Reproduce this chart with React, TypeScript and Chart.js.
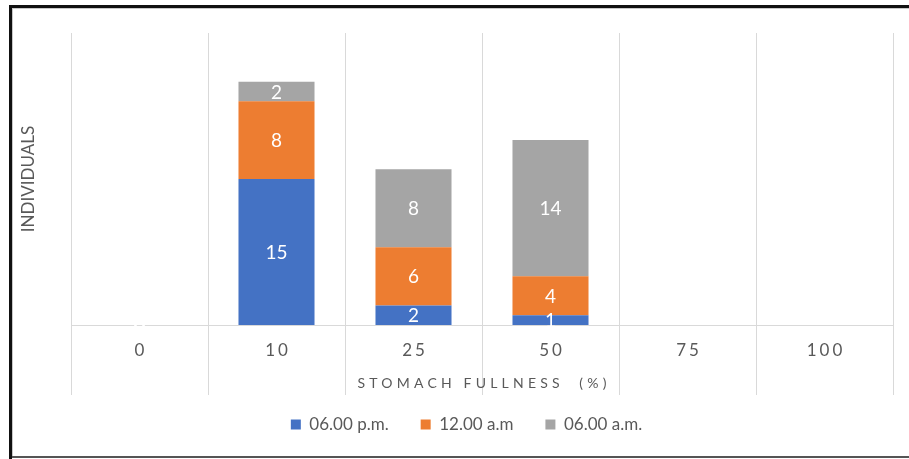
import React, { useEffect, useRef } from "react";
import { Chart, registerables } from "chart.js";

Chart.register(...registerables);

// Stomach fullness classes (%) and individuals per sampling time
const categories = ["0", "10", "25", "50", "75", "100"];
const eveningValues = [0, 15, 2, 1, null, null];   // 06.00 p.m.
const midnightValues = [0, 8, 6, 4, null, null];   // 12.00 a.m
const morningValues = [0, 2, 8, 14, null, null];   // 06.00 a.m.
const seriesNames = ["06.00 p.m.", "12.00 a.m", "06.00 a.m."];
const seriesColors = ["#4472C4", "#ED7D31", "#A5A5A5"];
const xTitle = "STOMACH FULLNESS  (%)";
const yTitle = "INDIVIDUALS";

const FONT = "Lato, 'Open Sans', sans-serif";
const TEXT_GREY = "#595959";
const GRID_GREY = "#d9d9d9";

// Page-like frame around the whole figure
const framePlugin = {
  id: "frame",
  beforeDraw(chart: any) {
    const { ctx, width, height } = chart;
    ctx.save();
    ctx.fillStyle = "#ffffff";
    ctx.fillRect(0, 0, width, height);
    ctx.fillStyle = "#111111";
    ctx.fillRect(9, 5, width - 9, 3);
    ctx.fillRect(9, 5, 3, height - 5);
    ctx.fillStyle = "#c8c8c8";
    ctx.fillRect(12, 8, width - 12, 1);
    ctx.fillRect(12, 8, 1, height - 10);
    ctx.fillStyle = "#555555";
    ctx.fillRect(12, height - 3, width - 12, 2);
    ctx.restore();
  },
};

// Category table lines below the axis, spaced tick labels and axis title
const xAxisPlugin = {
  id: "xAxisDecor",
  afterDraw(chart: any) {
    const { ctx, chartArea, scales } = chart;
    const xs = scales.x;
    const n = categories.length;
    const step = (chartArea.right - chartArea.left) / n;
    ctx.save();
    ctx.strokeStyle = GRID_GREY;
    ctx.lineWidth = 1;
    for (let i = 0; i <= n; i++) {
      const x = Math.round(chartArea.left + i * step) + 0.5;
      ctx.beginPath();
      ctx.moveTo(x, chartArea.bottom);
      ctx.lineTo(x, chartArea.bottom + 70);
      ctx.stroke();
    }
    ctx.fillStyle = TEXT_GREY;
    ctx.textAlign = "center";
    ctx.textBaseline = "middle";
    (ctx as any).letterSpacing = "3px";
    ctx.font = `17px ${FONT}`;
    categories.forEach((label, i) => {
      const x = xs.getPixelForTick(i);
      ctx.fillText(label, x + 1.5, chartArea.bottom + 26);
    });
    (ctx as any).letterSpacing = "4.2px";
    ctx.font = `14px ${FONT}`;
    ctx.fillText(xTitle, (chartArea.left + chartArea.right) / 2 + 2.1, chartArea.bottom + 58);
    ctx.restore();
  },
};

// Value labels in the middle of each stacked segment
const valueLabelPlugin = {
  id: "valueLabels",
  afterDatasetsDraw(chart: any) {
    const { ctx } = chart;
    ctx.save();
    ctx.fillStyle = "#ffffff";
    ctx.textAlign = "center";
    ctx.textBaseline = "middle";
    ctx.font = `19px ${FONT}`;
    chart.data.datasets.forEach((ds: any, di: number) => {
      const meta = chart.getDatasetMeta(di);
      meta.data.forEach((bar: any, i: number) => {
        const v = ds.data[i];
        if (v === null || v === undefined) return;
        ctx.fillText(String(v), bar.x, (bar.y + bar.base) / 2 + 1);
      });
    });
    ctx.restore();
  },
};

export default function App() {
  const canvasRef = useRef<HTMLCanvasElement | null>(null);

  useEffect(() => {
    if (!canvasRef.current) return;
    const values = [eveningValues, midnightValues, morningValues];
    const chart = new Chart(canvasRef.current, {
      type: "bar",
      data: {
        labels: categories,
        datasets: seriesNames.map((name, i) => ({
          label: name,
          data: values[i],
          backgroundColor: seriesColors[i],
          borderWidth: 0,
          categoryPercentage: 1,
          barPercentage: 0.555,
        })),
      },
      options: {
        animation: false,
        responsive: false,
        devicePixelRatio: 1,
        layout: { padding: { left: 40, top: 33, right: 16, bottom: 16 } },
        plugins: {
          tooltip: { enabled: false },
          legend: {
            position: "bottom",
            labels: {
              boxWidth: 10,
              boxHeight: 10,
              padding: 32,
              color: TEXT_GREY,
              font: { family: FONT, size: 17 },
            },
          },
        },
        scales: {
          x: {
            stacked: true,
            offset: true,
            grid: { color: GRID_GREY, offset: true, drawTicks: false },
            border: { color: GRID_GREY },
            ticks: { display: false },
            afterFit(s: any) {
              s.height = 59;
            },
          },
          y: {
            stacked: true,
            min: 0,
            max: 30,
            grid: { display: false },
            border: { display: false },
            ticks: { display: false },
            title: {
              display: true,
              text: yTitle,
              color: TEXT_GREY,
              font: { family: FONT, size: 17 },
              padding: { top: -22, bottom: 0 },
            },
            afterFit(s: any) {
              s.width = 31;
            },
          },
        },
      },
      plugins: [framePlugin, valueLabelPlugin, xAxisPlugin],
    });
    return () => chart.destroy();
  }, []);

  return (
    <div style={{ position: "fixed", left: 0, top: 0, width: 909, height: 459 }}>
      <canvas ref={canvasRef} width={909} height={459} />
    </div>
  );
}
